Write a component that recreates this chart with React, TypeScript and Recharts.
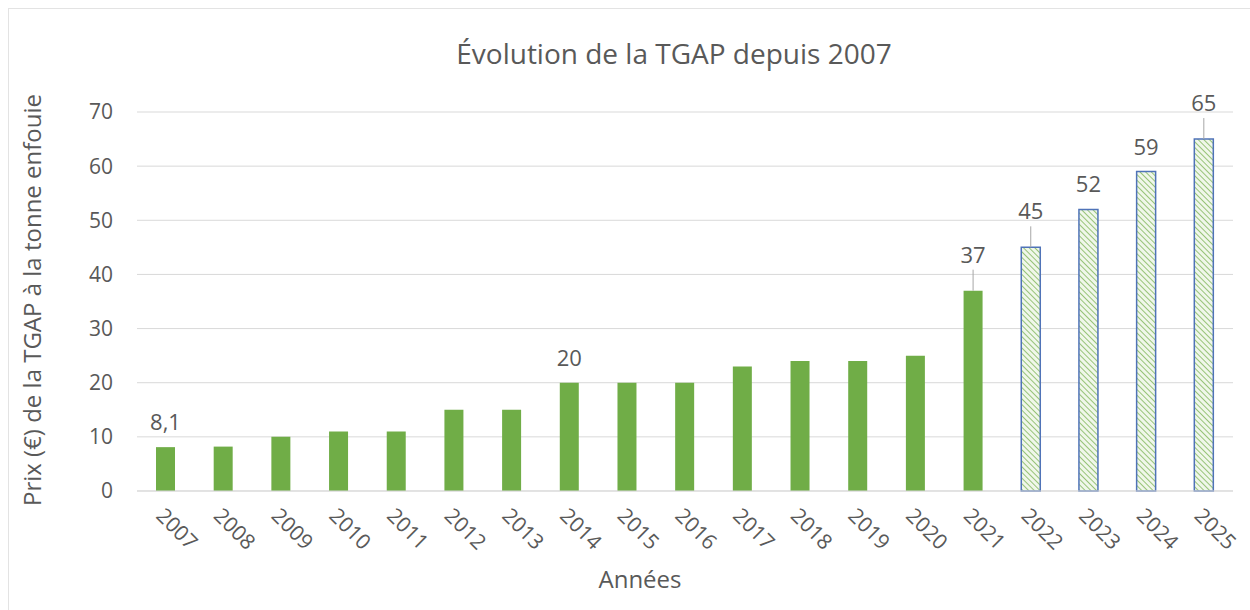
import React from 'react';
import { BarChart, Bar, Cell, XAxis, YAxis, CartesianGrid, LabelList } from 'recharts';

const years = ['2007', '2008', '2009', '2010', '2011', '2012', '2013', '2014', '2015', '2016', '2017', '2018', '2019', '2020', '2021', '2022', '2023', '2024', '2025'];
const tgap = [8.1, 8.2, 10, 11, 11, 15, 15, 20, 20, 20, 23, 24, 24, 25, 37, 45, 52, 59, 65];
const valueLabels = ['8,1', '', '', '', '', '', '', '20', '', '', '', '', '', '', '37', '45', '52', '59', '65'];
const forecastYears = ['2022', '2023', '2024', '2025'];
const yTicks = [0, 10, 20, 30, 40, 50, 60, 70];

const data = years.map((year, i) => ({ year, value: tgap[i], label: valueLabels[i] }));

// labels that Excel pushed higher and tied back to the bar with a leader line
const LEADER = ['2021', '2022', '2025'];

const FONT = '"Open Sans", sans-serif';
const TEXT = '#595959';
const GREEN = '#70ad47';

const YearTick = (props: any) => {
    const { x, y, payload } = props;
    return (
        <g transform={`translate(${x - 6},${y + 13}) rotate(45)`}>
            <text x={0} y={0} dy={7} textAnchor="start" fill={TEXT} fontSize={21} fontFamily={FONT}>
                {payload.value}
            </text>
        </g>
    );
};

const ValueLabel = (props: any) => {
    const { x, y, width, index } = props;
    const text = valueLabels[index];
    if (!text) return null;
    const cx = x + width / 2;
    const leader = LEADER.includes(years[index]);
    const ty = leader ? y - 36 : y - 25;
    return (
        <g>
            {leader && <line x1={cx} x2={cx} y1={y - 21} y2={y} stroke="#a6a6a6" strokeWidth={1} />}
            <text x={cx} y={ty} dy={8} textAnchor="middle" fill={TEXT} fontSize={22} fontFamily={FONT}>
                {text}
            </text>
        </g>
    );
};

export default function App() {
    return (
        <div style={{ position: 'fixed', left: 0, top: 0, width: 1250, height: 610, background: '#fff', overflow: 'hidden' }}>
            <div style={{ position: 'absolute', left: 8, top: 8, width: 1260, height: 620, borderLeft: '1px solid #e3e3e3', borderTop: '1px solid #e3e3e3' }} />
            <div style={{ position: 'absolute', left: 0, width: 1348, top: 34, textAlign: 'center', fontFamily: FONT, fontSize: 28, color: TEXT }}>
                Évolution de la TGAP depuis 2007
            </div>
            <div style={{ position: 'absolute', left: 0, top: 0 }}>
                <BarChart width={1250} height={610} data={data} margin={{ top: 112, right: 17, bottom: 19, left: 37 }}>
                    <defs>
                        <pattern id="hatch" patternUnits="userSpaceOnUse" width={4} height={4} patternTransform="rotate(-45)">
                            <rect width={4} height={4} fill="#f0f7ea" />
                            <line x1={0} y1={0} x2={0} y2={4} stroke={GREEN} strokeWidth={1.4} />
                        </pattern>
                    </defs>
                    <CartesianGrid vertical={false} stroke="#d9d9d9" />
                    <XAxis
                        dataKey="year"
                        interval={0}
                        height={100}
                        tickLine={false}
                        axisLine={{ stroke: '#d9d9d9' }}
                        tick={<YearTick />}
                        label={{
                            content: (p: any) => (
                                <text x={p.viewBox.x + p.viewBox.width / 2 - 45} y={p.viewBox.y + 89} dy={8} textAnchor="middle" fill={TEXT} fontSize={24} fontFamily={FONT}>
                                    Années
                                </text>
                            ),
                        }}
                    />
                    <YAxis
                        width={100}
                        domain={[0, 70]}
                        ticks={yTicks}
                        tickLine={false}
                        axisLine={false}
                        tickSize={0}
                        tickMargin={24}
                        tick={{ fill: TEXT, fontSize: 21, fontFamily: FONT }}
                        label={{
                            content: () => (
                                <text x={33} y={300} dy={8} transform="rotate(-90 33 300)" textAnchor="middle" fill={TEXT} fontSize={24} fontFamily={FONT}>
                                    Prix (€) de la TGAP à la tonne enfouie
                                </text>
                            ),
                        }}
                    />
                    <Bar dataKey="value" barSize={19} isAnimationActive={false}>
                        {data.map((d) =>
                            forecastYears.includes(d.year) ? (
                                <Cell key={d.year} fill="url(#hatch)" stroke="#4f73b8" strokeWidth={1.5} />
                            ) : (
                                <Cell key={d.year} fill={GREEN} />
                            )
                        )}
                        <LabelList dataKey="label" content={<ValueLabel />} />
                    </Bar>
                </BarChart>
            </div>
        </div>
    );
}
